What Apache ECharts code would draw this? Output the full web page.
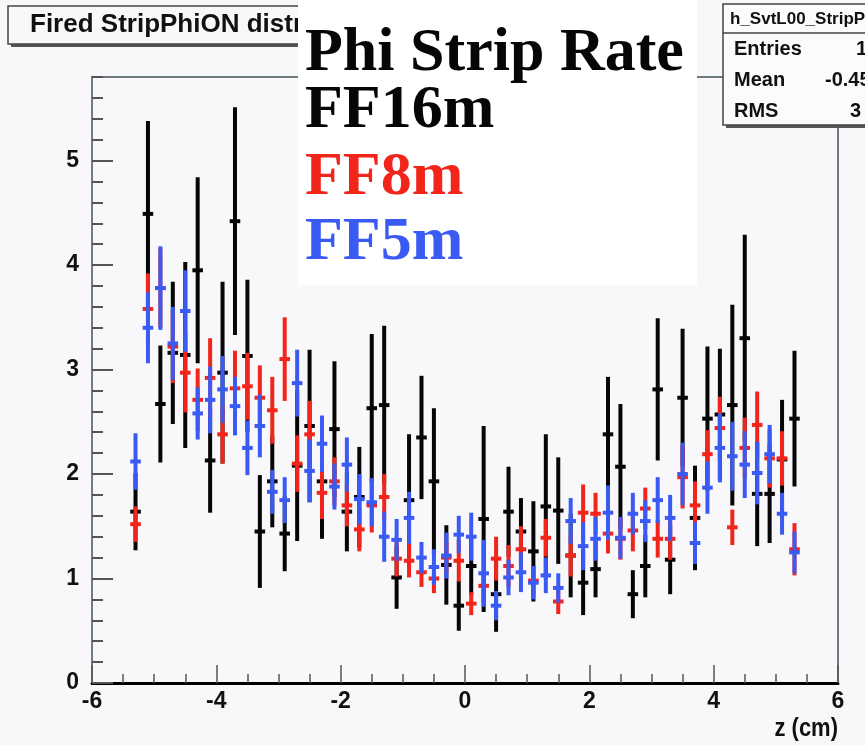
<!DOCTYPE html>
<html>
<head>
<meta charset="utf-8">
<script src="https://cdn.jsdelivr.net/npm/echarts@6/dist/echarts.min.js"></script>
<style>
html,body{margin:0;padding:0;background:#f8f8fa;}
#chart{width:865px;height:745px;}
</style>
</head>
<body>
<div id="chart"></div>
<script>
// bin centres (z in cm)
const zBins = [-5.3,-5.1,-4.9,-4.7,-4.5,-4.3,-4.1,-3.9,-3.7,-3.5,-3.3,-3.1,-2.9,-2.7,-2.5,-2.3,-2.1,-1.9,-1.7,-1.5,-1.3,-1.1,-0.9,-0.7,-0.5,-0.3,-0.1,0.1,0.3,0.5,0.7,0.9,1.1,1.3,1.5,1.7,1.9,2.1,2.3,2.5,2.7,2.9,3.1,3.3,3.5,3.7,3.9,4.1,4.3,4.5,4.7,4.9,5.1,5.3];

// FF16m (black)
const ff16Val = [1.64,4.49,2.67,3.16,3.14,3.95,2.13,2.97,4.42,3.13,1.45,1.93,1.43,2.08,2.46,1.93,2.43,1.64,1.78,2.63,2.66,1.01,1.75,2.35,1.93,1.13,0.74,1.12,1.57,0.85,1.64,1.45,1.26,1.69,1.65,1.22,0.96,1.09,2.38,2.07,0.85,1.12,2.81,1.18,2.73,1.58,2.53,2.57,2.66,3.30,1.81,1.81,2.14,2.53];
const ff16Err = [0.37,0.89,0.56,0.68,0.89,0.89,0.50,0.87,1.09,0.73,0.54,0.44,0.36,0.72,0.73,0.55,0.65,0.38,0.48,0.71,0.76,0.30,0.63,0.59,0.70,0.38,0.24,0.28,0.89,0.36,0.43,0.32,0.48,0.69,0.51,0.40,0.31,0.27,0.55,0.60,0.23,0.30,0.68,0.33,0.66,0.50,0.69,0.63,0.96,0.99,0.50,0.47,0.57,0.65];

// FF8m (red)
const ff8Val = [1.52,3.58,3.78,3.22,2.97,2.71,2.92,2.38,2.82,2.84,2.73,2.61,3.10,2.10,2.38,1.82,1.93,1.70,1.47,1.70,1.78,1.19,1.17,1.06,1.00,1.20,1.17,0.76,0.93,1.19,1.12,1.28,0.98,1.39,0.78,1.22,1.63,1.62,1.43,1.38,1.46,1.67,1.38,1.38,1.97,1.70,2.19,2.44,1.49,2.25,2.47,2.15,2.15,1.28];
const ff8Err = [0.17,0.34,0.38,0.35,0.38,0.30,0.38,0.28,0.36,0.32,0.31,0.32,0.40,0.27,0.32,0.25,0.23,0.20,0.21,0.26,0.22,0.17,0.16,0.14,0.14,0.15,0.20,0.11,0.15,0.21,0.20,0.22,0.14,0.18,0.12,0.20,0.27,0.20,0.19,0.20,0.20,0.20,0.18,0.20,0.30,0.23,0.23,0.30,0.17,0.29,0.32,0.28,0.26,0.25];

// FF5m (blue)
const ff5Val = [2.12,3.40,3.78,3.25,3.56,2.58,2.71,2.81,2.65,2.25,2.46,1.83,1.75,2.87,2.03,2.29,1.88,2.09,1.76,1.73,1.40,1.37,1.58,1.20,1.11,1.22,1.42,1.40,1.05,0.74,1.01,1.06,0.96,1.03,0.91,1.55,1.31,1.38,1.63,1.39,1.62,1.55,1.75,1.58,2.00,1.34,1.87,2.25,2.17,2.09,2.01,2.19,1.62,1.25];
const ff5Err = [0.27,0.34,0.40,0.35,0.39,0.25,0.32,0.32,0.28,0.26,0.30,0.21,0.22,0.32,0.30,0.27,0.22,0.26,0.24,0.23,0.24,0.20,0.25,0.15,0.17,0.22,0.18,0.23,0.32,0.14,0.17,0.19,0.16,0.17,0.14,0.22,0.23,0.21,0.26,0.20,0.20,0.20,0.22,0.22,0.30,0.20,0.25,0.33,0.33,0.32,0.30,0.28,0.20,0.20];

const xTicksMajor = [-6,-4,-2,0,2,4,6];
const yTicksMajor = [0,1,2,3,4,5];

const seriesDefs = [
  {name:'FF16m', color:'#060606', val:ff16Val, err:ff16Err},
  {name:'FF8m',  color:'#f2251b', val:ff8Val,  err:ff8Err},
  {name:'FF5m',  color:'#3a5bf3', val:ff5Val,  err:ff5Err}
];

function makeErrSeries(def){
  const data = zBins.map((z,i)=>[z, def.val[i], def.err[i]]);
  return {
    type:'custom', name:def.name, data:data,
    encode:{x:0, y:1},
    renderItem:function(params, api){
      const x = api.value(0), v = api.value(1), e = api.value(2);
      const top = api.coord([x, v+e]);
      const bot = api.coord([x, Math.max(0, v-e)]);
      const l = api.coord([x-0.085, v]);
      const r = api.coord([x+0.085, v]);
      return {type:'group', children:[
        {type:'line', shape:{x1:top[0],y1:top[1],x2:bot[0],y2:bot[1]}, style:{stroke:def.color, lineWidth:4}},
        {type:'line', shape:{x1:l[0],y1:l[1],x2:r[0],y2:r[1]}, style:{stroke:def.color, lineWidth:4}}
      ]};
    },
    z: 2
  };
}

const SANS = '"Liberation Sans",Arial,Helvetica,sans-serif';
const SERIF = '"Liberation Serif","Times New Roman",serif';
const chart = echarts.init(document.getElementById('chart'), null, {renderer:'canvas'});
const labelFont = {fontFamily:SANS, fontWeight:'bold', fontSize:23, color:'#111'};

function gtext(x, y, text, size, extra){
  return Object.assign({type:'text', x:x, y:y, z:12,
    style:{text:text, fontFamily:SANS, fontWeight:'bold', fontSize:size, fill:'#111', verticalAlign:'middle'}}, extra||{});
}

chart.setOption({
  backgroundColor:'#f8f8fa',
  animation:false,
  grid:{left:92, right:27, top:77, bottom:62, show:true, borderColor:'#6d7c7d', borderWidth:2, backgroundColor:'transparent'},
  xAxis:{
    type:'value', min:-6, max:6, interval:2,
    axisLine:{show:true, onZero:false, lineStyle:{color:'#000', width:3}},
    axisTick:{show:true, inside:true, length:18, lineStyle:{color:'#555', width:1.5}},
    minorTick:{show:true, splitNumber:4, length:9, lineStyle:{color:'#555', width:1.5}},
    axisLabel:Object.assign({margin:7, formatter:v=>xTicksMajor.includes(v)?String(v):''}, labelFont),
    splitLine:{show:false}
  },
  yAxis:[{
    type:'value', min:0, max:5.8, interval:1,
    axisLine:{show:true, onZero:false, lineStyle:{color:'#6d7c7d', width:2}},
    axisTick:{show:true, inside:true, length:21, lineStyle:{color:'#555', width:2}},
    axisLabel:Object.assign({margin:13, showMaxLabel:false, formatter:v=>yTicksMajor.includes(v)?String(v):''}, labelFont),
    splitLine:{show:false}
  },{
    type:'value', min:0, max:5.8, interval:0.2, position:'left',
    axisLine:{show:false, onZero:false},
    axisTick:{show:true, inside:true, length:11, lineStyle:{color:'#555', width:2}},
    axisLabel:{show:false},
    splitLine:{show:false}
  }],
  series: seriesDefs.map(makeErrSeries),
  graphic:[
    // title box
    {type:'rect', shape:{x:11, y:9, width:300, height:38}, style:{fill:'#555'}, z:10},
    {type:'rect', shape:{x:8, y:6, width:300, height:38}, style:{fill:'#f8f8fa', stroke:'#444', lineWidth:1.5}, z:11},
    gtext(30, 25, 'Fired StripPhiON distribution', 26),
    // stats box
    {type:'rect', shape:{x:726, y:7, width:160, height:121}, style:{fill:'#555'}, z:10},
    {type:'rect', shape:{x:723, y:4, width:160, height:121}, style:{fill:'#fbfbfc', stroke:'#444', lineWidth:1.5}, z:11},
    {type:'line', shape:{x1:723, y1:33, x2:865, y2:33}, style:{stroke:'#444', lineWidth:1.5}, z:12},
    gtext(730, 19, 'h_SvtL00_StripPhiON', 17),
    gtext(734, 49, 'Entries', 20),
    gtext(734, 80, 'Mean', 20),
    gtext(734, 111, 'RMS', 20),
    gtext(856, 49, '1', 20),
    gtext(825, 80, '-0.45', 20),
    gtext(850, 111, '3', 20),
    // legend box
    {type:'rect', shape:{x:298, y:0, width:399, height:285}, style:{fill:'#ffffff'}, z:20},
    {type:'text', x:305, y:54, z:21, style:{text:'Phi Strip Rate', fontFamily:SERIF, fontWeight:'bold', fontSize:62, fill:'#060606', verticalAlign:'middle'}},
    {type:'text', x:305, y:111, z:21, style:{text:'FF16m', fontFamily:SERIF, fontWeight:'bold', fontSize:62, fill:'#060606', verticalAlign:'middle'}},
    {type:'text', x:305, y:178, z:21, style:{text:'FF8m', fontFamily:SERIF, fontWeight:'bold', fontSize:62, fill:'#f2251b', verticalAlign:'middle'}},
    {type:'text', x:305, y:243, z:21, style:{text:'FF5m', fontFamily:SERIF, fontWeight:'bold', fontSize:62, fill:'#3a5bf3', verticalAlign:'middle'}},
    // axis title
    {type:'text', x:838, y:729, z:12, scaleY:1.2, originX:0, originY:0,
     style:{text:'z (cm)', fontFamily:SANS, fontWeight:'bold', fontSize:22, fill:'#111', align:'right', verticalAlign:'middle'}}
  ]
});
</script>
</body>
</html>
